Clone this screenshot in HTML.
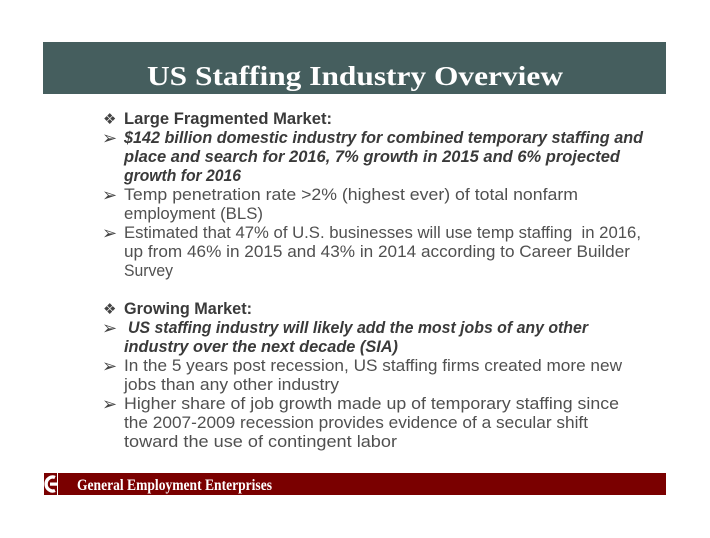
<!DOCTYPE html>
<html>
<head>
<meta charset="utf-8">
<style>
  html,body{margin:0;padding:0;background:#ffffff;}
  svg{display:block;}
  .t{font-family:"Liberation Sans","DejaVu Sans",sans-serif;font-size:17px;white-space:pre;}
  .r{fill:#505050;}
  .b{fill:#3a3a3a;font-weight:bold;}
  .bi{fill:#3a3a3a;font-weight:bold;font-style:italic;}
  .bul{font-family:"DejaVu Sans",sans-serif;fill:#444;}
</style>
</head>
<body>
<svg width="710" height="538" viewBox="0 0 710 538" xmlns="http://www.w3.org/2000/svg">
  <rect x="0" y="0" width="710" height="538" fill="#ffffff"/>
  <!-- header -->
  <rect x="43" y="42" width="623" height="52" fill="#455e5e"/>
  <text x="147" y="85" textLength="416" lengthAdjust="spacingAndGlyphs" style="font-family:'Liberation Serif',serif;font-weight:bold;font-size:27px;fill:#ffffff;">US Staffing Industry Overview</text>

  <!-- bullets -->
  <text class="bul" x="103" y="124" font-size="15">❖</text>
  <text class="bul" x="102" y="144" font-size="18">➢</text>
  <text class="bul" x="102" y="201" font-size="18">➢</text>
  <text class="bul" x="102" y="239" font-size="18">➢</text>
  <text class="bul" x="103" y="314" font-size="15">❖</text>
  <text class="bul" x="102" y="334" font-size="18">➢</text>
  <text class="bul" x="102" y="372" font-size="18">➢</text>
  <text class="bul" x="102" y="410" font-size="18">➢</text>

  <!-- block 1 -->
  <text class="t b" x="124" y="124" textLength="208" lengthAdjust="spacingAndGlyphs">Large Fragmented Market:</text>
  <text class="t bi" x="124" y="143" textLength="519" lengthAdjust="spacingAndGlyphs">$142 billion domestic industry for combined temporary staffing and</text>
  <text class="t bi" x="124" y="162" textLength="496" lengthAdjust="spacingAndGlyphs">place and search for 2016, 7% growth in 2015 and 6% projected</text>
  <text class="t bi" x="124" y="181" textLength="117" lengthAdjust="spacingAndGlyphs">growth for 2016</text>
  <text class="t r" x="124" y="200" textLength="454" lengthAdjust="spacingAndGlyphs">Temp penetration rate &gt;2% (highest ever) of total nonfarm</text>
  <text class="t r" x="124" y="219" textLength="139" lengthAdjust="spacingAndGlyphs">employment (BLS)</text>
  <text class="t r" x="124" y="238" textLength="517" lengthAdjust="spacingAndGlyphs">Estimated that 47% of U.S. businesses will use temp staffing  in 2016,</text>
  <text class="t r" x="124" y="257" textLength="506" lengthAdjust="spacingAndGlyphs">up from 46% in 2015 and 43% in 2014 according to Career Builder</text>
  <text class="t r" x="124" y="276" textLength="49" lengthAdjust="spacingAndGlyphs">Survey</text>

  <!-- block 2 -->
  <text class="t b" x="124" y="314" textLength="128" lengthAdjust="spacingAndGlyphs">Growing Market:</text>
  <text class="t bi" x="128" y="333" textLength="460" lengthAdjust="spacingAndGlyphs">US staffing industry will likely add the most jobs of any other</text>
  <text class="t bi" x="124" y="352" textLength="274" lengthAdjust="spacingAndGlyphs">industry over the next decade (SIA)</text>
  <text class="t r" x="124" y="371" textLength="498" lengthAdjust="spacingAndGlyphs">In the 5 years post recession, US staffing firms created more new</text>
  <text class="t r" x="124" y="390" textLength="215" lengthAdjust="spacingAndGlyphs">jobs than any other industry</text>
  <text class="t r" x="124" y="409" textLength="495" lengthAdjust="spacingAndGlyphs">Higher share of job growth made up of temporary staffing since</text>
  <text class="t r" x="124" y="428" textLength="464" lengthAdjust="spacingAndGlyphs">the 2007-2009 recession provides evidence of a secular shift</text>
  <text class="t r" x="124" y="447" textLength="273" lengthAdjust="spacingAndGlyphs">toward the use of contingent labor</text>

  <!-- footer -->
  <rect x="44" y="473" width="13" height="22" fill="#7a0000"/>
  <rect x="58" y="473" width="608" height="22" fill="#7a0000"/>
  <!-- G logo -->
  <path d="M55 477.5 A6.5 7 0 1 0 55 490.5" fill="none" stroke="#ffffff" stroke-width="3.4"/>
  <rect x="50" y="482.5" width="8" height="3.2" fill="#ffffff"/>
  <text x="77" y="490" textLength="195" lengthAdjust="spacingAndGlyphs" style="font-family:'Liberation Serif',serif;font-weight:bold;font-size:16px;fill:#ffffff;">General Employment  Enterprises</text>
</svg>
</body>
</html>
